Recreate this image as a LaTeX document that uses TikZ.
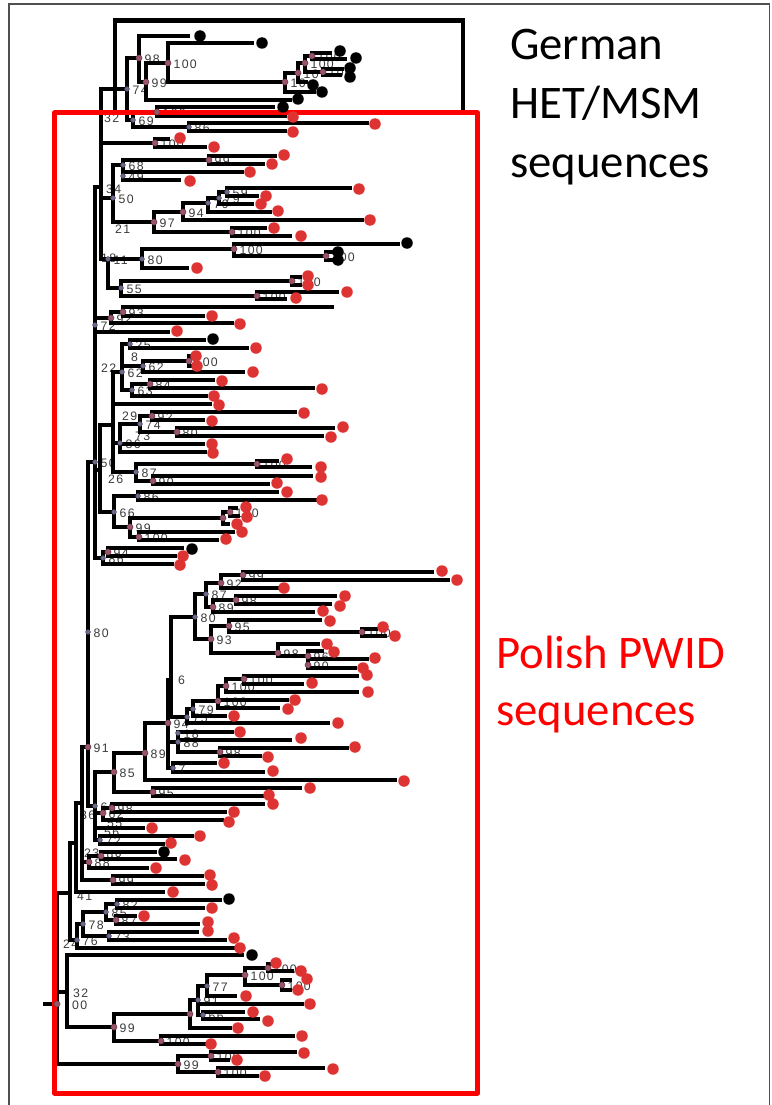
\documentclass[tikz,border=0pt]{standalone}
\usepackage{fontspec}
\setmainfont{Carlito}
\newfontfamily\labfont[LetterSpace=10]{Liberation Sans}
\pgfdeclarelayer{back}\pgfdeclarelayer{labs}\pgfdeclarelayer{fg}\pgfdeclarelayer{mks}
\pgfsetlayers{back,labs,main,fg,mks}
\definecolor{dotred}{HTML}{DD3333}
\definecolor{boxred}{HTML}{FF0000}
\definecolor{mkmauve}{HTML}{9A5468}
\definecolor{mkslate}{HTML}{6A6A8E}
\definecolor{labgray}{HTML}{3C3C3C}
\definecolor{framecol}{HTML}{505050}
\tikzset{
  br/.style={line width=3.1pt,line join=miter,line cap=rect},
  tipdot/.style={circle,inner sep=0pt,minimum size=11.5pt,draw=none},
  mkA/.style={circle,fill=mkmauve,draw=mkmauve!60!black,line width=0.4pt,inner sep=0pt,minimum size=6.2pt},
  mkB/.style={circle,fill=mkslate,draw=mkslate!60!black,line width=0.4pt,inner sep=0pt,minimum size=4.8pt},
  lab/.style={anchor=west,inner sep=0pt,text=labgray,font=\labfont\fontsize{12.3}{12.3}\selectfont},
  bigtxt/.style={anchor=base west,inner sep=0pt,font=\fontsize{46.7}{50}\selectfont}
}
\newcommand{\inn}[4]{\coordinate (#2) at (#3,#4); \draw[br] (#1) |- (#2);}
\newcommand{\tip}[7]{\coordinate (#2) at (#4,#3); \draw[br] (#1) |- (#2);
  \begin{pgfonlayer}{fg}\node[tipdot,fill=#7] (#2d) at (#5,#6) {};\end{pgfonlayer}}
\newcommand{\tipn}[4]{\coordinate (#2) at (#4,#3); \draw[br] (#1) |- (#2);}
\newcommand{\mk}[3]{\begin{pgfonlayer}{mks}\node[mk#3] (#1m) at (#1) {};\end{pgfonlayer}
  \begin{pgfonlayer}{labs}\node[lab] (#1l) at ([shift={(5.5,1.2)}]#1) {#2};\end{pgfonlayer}}
\newcommand{\flab}[4]{\begin{pgfonlayer}{labs}\node[lab] (#1) at (#2,#3) {#4};\end{pgfonlayer}}
\begin{document}
\begin{tikzpicture}[x=1pt,y=-1pt]
\useasboundingbox (0,0) rectangle (771,1105);
\begin{pgfonlayer}{back}\fill[white] (0,0) rectangle (771,1105);\end{pgfonlayer}
\draw[framecol,line width=1.5pt] (9,1110) -- (9,4) -- (769.5,4) -- (769.5,1110);
% boxes
\begin{pgfonlayer}{fg}
\draw[line width=4.8pt,line join=miter] (115,112) -- (115,20.5) -- (463,20.5) -- (463,112);
\draw[boxred,line width=5pt,line join=round] (54.5,113) rectangle (477.5,1093);
\end{pgfonlayer}
% texts
\node[bigtxt] (tG1) at (510,60) {German};
\node[bigtxt] (tG2) at (510,119) {HET/MSM};
\node[bigtxt] (tG3) at (510,177) {sequences};
\node[bigtxt,text=boxred] (tP1) at (496,668) {Polish PWID};
\node[bigtxt,text=boxred] (tP2) at (496,725) {sequences};
% ---------- tree ----------
\coordinate (root) at (57,1004);
\coordinate (rootstub) at (45,1004);
\draw[br] (rootstub) -- (root);
\inn{root}{N4}{70}{893}
\inn{N4}{N3}{76}{843}
\inn{N3}{N2}{82}{803}
\inn{N2}{N1}{88}{747}
\inn{N1}{nT}{95}{462}
\inn{nT}{nS0}{95}{325}
\inn{nS0}{S1}{101}{187}
% German clade
\inn{S1}{n74}{127}{89}
\inn{n74}{n98}{139}{58}
\tip{n98}{tg1}{36}{188}{200}{36}{black}
\inn{n98}{n99}{146}{82}
\inn{n99}{n100a}{168}{63}
\tip{n99}{tg2}{100}{290}{298}{99}{black}
\tip{n100a}{tg3}{43}{252}{262}{43}{black}
\inn{n100a}{c1}{285}{82}
\inn{c1}{c2}{298}{73}
\tip{c1}{tg4}{92}{314}{322}{92}{black}
\inn{c2}{c3}{305}{63}
\tip{c2}{tg5}{82}{306}{313}{85}{black}
\inn{c3}{c4}{312}{56}
\inn{c3}{c5}{323}{72}
\tip{c4}{tg6}{53}{330}{340}{51}{black}
\tip{c4}{tg7}{59}{345}{356}{58}{black}
\tip{c5}{tg8}{69}{342}{350}{68}{black}
\tip{c5}{tg9}{75}{340}{350}{77}{black}
\inn{n74}{n69}{133}{120}
\inn{n69}{n100b}{157}{112}
\tip{n100b}{tg10}{107}{273}{283}{107}{black}
\tip{n100b}{tr1}{116}{285}{293}{117}{dotred}
\inn{n69}{n86}{189}{127}
\tip{n86}{tr2}{123}{367}{375}{124}{dotred}
\tip{n86}{tr3}{131}{285}{293}{132}{dotred}
\inn{S1}{n100c}{155}{143}
\tip{n100c}{tr4}{139}{168}{180}{138}{dotred}
\tip{n100c}{tr5}{147}{205}{214}{147}{dotred}
\inn{S1}{n50}{113}{198}
\inn{n50}{n68}{123}{165}
\inn{n68}{n99b}{209}{160}
\tip{n99b}{tr6}{156}{275}{284}{155}{dotred}
\tip{n99b}{tr7}{164}{263}{272}{164}{dotred}
\tip{n68}{tr8}{172}{242}{250}{172}{dotred}
\tip{n68}{tr9}{180}{179}{190}{181}{dotred}
\coordinate (m49) at (123,176);
\inn{n50}{n97}{154}{222}
\inn{n97}{n94}{183}{212}
\inn{n94}{n79}{208}{203}
\inn{n79}{n79b}{219}{198}
\inn{n79b}{n59}{227}{192}
\tip{n59}{tr10}{188}{350}{359}{189}{dotred}
\tip{n59}{tr11}{196}{257}{266}{196}{dotred}
\tip{n79b}{tr12}{204}{252}{261}{204}{dotred}
\tip{n79}{tr13}{212}{270}{278}{211}{dotred}
\tip{n94}{tr14}{220}{362}{370}{220}{dotred}
\inn{n97}{n100d}{232}{232}
\tip{n100d}{tr15}{228}{265}{274}{228}{dotred}
\tip{n100d}{tr16}{236}{290}{301}{236}{dotred}
\inn{S1}{n18}{108}{259}
\inn{n18}{n80}{142}{259}
\inn{n80}{n100e}{234}{249}
\tip{n100e}{tg11}{244}{398}{407}{243}{black}
\inn{n100e}{n100f}{326}{256}
\tip{n100f}{tg12}{252}{332}{338}{252}{black}
\tip{n100f}{tg13}{260}{332}{338}{260}{black}
\tip{n80}{tr17}{268}{187}{197}{268}{dotred}
\inn{n18}{n55}{121}{288}
\inn{n55}{n100g}{292}{281}
\tip{n100g}{tr18}{277}{300}{308}{276}{dotred}
\tip{n100g}{tr19}{285}{300}{308}{285}{dotred}
\inn{n55}{n100h}{257}{296}
\tip{n100h}{tr20}{292}{337}{347}{292}{dotred}
\tip{n100h}{tr21}{299}{285}{296}{298}{dotred}
\inn{nS0}{n92}{111}{318}
\inn{n92}{n93}{123}{312}
\tipn{n93}{tq1}{307}{332}
\tip{n93}{tr22}{316}{203}{212}{316}{dotred}
\tip{n92}{tr23}{323}{232}{240}{324}{dotred}
\tip{nS0}{tr24}{332}{168}{177}{331}{dotred}
% middle
\inn{nT}{nU}{100}{470}
\inn{nU}{n22}{113}{425}
\inn{n22}{n62b}{122}{372}
\inn{n62b}{n25}{130}{344}
\tip{n25}{tg14}{340}{204}{213}{339}{black}
\tip{n25}{tr25}{348}{247}{256}{348}{dotred}
\inn{n62b}{n62a}{143}{366}
\inn{n62a}{n100i}{189}{361}
\tip{n100i}{tr26}{356}{191}{196}{356}{dotred}
\tip{n100i}{tr27}{366}{191}{197}{366}{dotred}
\tip{n62a}{tr28}{372}{243}{253}{372}{dotred}
\inn{n62b}{n63}{132}{390}
\inn{n63}{n84}{150}{384}
\tip{n84}{tr29}{380}{213}{222}{381}{dotred}
\tip{n84}{tr30}{388}{313}{322}{389}{dotred}
\tip{n63}{tr31}{396}{206}{214}{396}{dotred}
\tip{n22}{tr32}{404}{210}{219}{405}{dotred}
\inn{n22}{n29g}{120}{443}
\inn{n29g}{n74b}{140}{424}
\inn{n74b}{n92b}{152}{416}
\tip{n92b}{tr33}{412}{295}{304}{413}{dotred}
\tip{n92b}{tr34}{420}{203}{212}{421}{dotred}
\inn{n74b}{n80b}{177}{432}
\tip{n80b}{tr35}{428}{333}{343}{427}{dotred}
\tip{n80b}{tr36}{436}{322}{331}{437}{dotred}
\tip{n29g}{tr37}{444}{203}{212}{444}{dotred}
\tip{n29g}{tr38}{452}{205}{213}{453}{dotred}
\inn{n22}{n87}{136}{472}
\inn{n87}{n100j}{257}{464}
\tip{n100j}{tr39}{461}{277}{287}{459}{dotred}
\tip{n100j}{tr40}{467}{310}{321}{467}{dotred}
\inn{n87}{n90}{153}{481}
\tip{n90}{tr41}{476}{311}{321}{477}{dotred}
\tip{n90}{tr42}{484}{268}{277}{483}{dotred}
\inn{nU}{n66}{114}{512}
\inn{n66}{n86b}{138}{496}
\tip{n86b}{tr43}{492}{277}{287}{492}{dotred}
\tip{n86b}{tr44}{500}{315}{322}{500}{dotred}
\inn{n66}{n99d}{130}{527}
\inn{n99d}{nX}{223}{518}
\inn{nX}{nX2}{230}{512}
\tip{nX2}{tr45}{508}{236}{246}{507}{dotred}
\tip{nX2}{tr46}{516}{238}{247}{517}{dotred}
\tip{nX}{tr47}{524}{228}{237}{524}{dotred}
\inn{n99d}{n100k}{139}{537}
\tip{n100k}{tr48}{532}{233}{242}{532}{dotred}
\tip{n100k}{tr49}{540}{217}{226}{539}{dotred}
\inn{nT}{n86c}{103}{558}
\inn{n86c}{n94d}{108}{552}
\tip{n94d}{tg15}{548}{182}{192}{549}{black}
\tip{n94d}{tr50}{556}{175}{183}{556}{dotred}
\tip{n86c}{tr51}{564}{172}{180}{565}{dotred}
% lower big clade
\coordinate (m80L) at (88,632);
\inn{N1}{n60}{95}{806}
\inn{n60}{n85}{114}{772}
\inn{n85}{n89c}{145}{753}
\inn{n89c}{n94c}{168}{723}
\inn{n94c}{n6}{171}{680}
\inn{n6}{n80c}{195}{617}
\inn{n80c}{n87b}{206}{594}
\inn{n87b}{n92c}{221}{583}
\inn{n92c}{n99e}{243}{575}
\tip{n99e}{tr52}{572}{432}{442}{571}{dotred}
\tip{n99e}{tr53}{580}{448}{457}{580}{dotred}
\tip{n92c}{tr54}{588}{277}{284}{588}{dotred}
\inn{n87b}{n89}{213}{607}
\inn{n89}{n98b}{236}{600}
\tip{n98b}{tr55}{596}{335}{345}{596}{dotred}
\tip{n98b}{tr56}{604}{330}{340}{606}{dotred}
\tip{n89}{tr57}{612}{313}{323}{611}{dotred}
\inn{n80c}{n93c}{211}{639}
\inn{n93c}{n95}{229}{626}
\tip{n95}{tr58}{620}{320}{330}{621}{dotred}
\inn{n95}{n100l}{362}{632}
\tip{n100l}{tr59}{629}{376}{383}{627}{dotred}
\tip{n100l}{tr60}{636}{385}{395}{636}{dotred}
\inn{n93c}{n98c}{278}{653}
\tip{n98c}{tr61}{644}{318}{327}{644}{dotred}
\inn{n98c}{n96}{308}{656}
\tip{n96}{tr62}{651}{322}{334}{652}{dotred}
\tip{n96}{tr63}{659}{367}{375}{658}{dotred}
\tip{n96}{tr64}{668}{355}{363}{668}{dotred}
\coordinate (m90) at (308,665);
\inn{n6}{n75}{187}{717}
\inn{n75}{n79c}{193}{709}
\inn{n79c}{nA2}{218}{701}
\inn{nA2}{nA1}{226}{686}
\inn{nA1}{n100m}{244}{679}
\tip{n100m}{tr65}{676}{357}{367}{675}{dotred}
\tip{n100m}{tr66}{684}{302}{312}{683}{dotred}
\tip{nA1}{tr67}{692}{357}{368}{692}{dotred}
\tip{nA2}{tr69}{700}{287}{295}{700}{dotred}
\tip{nA2}{tr68}{708}{278}{288}{709}{dotred}
\tip{n79c}{tr70}{716}{225}{234}{716}{dotred}
\tip{n75}{tr71}{723}{328}{338}{723}{dotred}
\inn{n94c}{n88}{178}{742}
\coordinate (m18) at (178,733);
\tip{n88}{tr72}{732}{232}{240}{732}{dotred}
\tip{n88}{tr73}{740}{290}{301}{738}{dotred}
\inn{n88}{n98d}{220}{752}
\tip{n98d}{tr74}{748}{347}{355}{747}{dotred}
\tip{n98d}{tr75}{756}{260}{268}{757}{dotred}
\inn{n94c}{n7}{173}{768}
\tip{n7}{tr76}{763}{215}{224}{763}{dotred}
\tip{n7}{tr77}{772}{263}{273}{771}{dotred}
\tip{n89c}{tr78}{780}{395}{404}{781}{dotred}
\inn{n85}{n95b}{153}{792}
\tip{n95b}{tr79}{788}{300}{310}{788}{dotred}
\tip{n95b}{tr80}{796}{262}{269}{795}{dotred}
\inn{n60}{n62c}{103}{813}
\inn{n62c}{n98e}{112}{808}
\tip{n98e}{tr81}{804}{263}{273}{804}{dotred}
\tip{n98e}{tr82}{812}{225}{234}{812}{dotred}
\tip{n62c}{tr83}{820}{222}{229}{822}{dotred}
\tip{n60}{tr84}{828}{143}{152}{828}{dotred}
\inn{n60}{n72c}{100}{840}
\tip{n72c}{tr85}{836}{192}{200}{836}{dotred}
\tip{n72c}{tr86}{844}{163}{171}{843}{dotred}
\inn{N2}{n88b}{89}{862}
\inn{n88b}{n98f}{101}{856}
\tip{n98f}{tg16}{852}{155}{164}{852}{black}
\tip{n98f}{tr87}{859}{175}{185}{860}{dotred}
\tip{n88b}{tr88}{868}{147}{156}{868}{dotred}
\inn{N2}{n99f}{113}{880}
\tip{n99f}{tr89}{876}{202}{210}{875}{dotred}
\tip{n99f}{tr90}{884}{203}{212}{885}{dotred}
\tip{N3}{tr91}{892}{163}{173}{892}{dotred}
\inn{N4}{n76}{77}{940}
\inn{n76}{n78}{83}{924}
\inn{n78}{n85c}{106}{912}
\inn{n85c}{n82}{117}{904}
\tip{n82}{tg17}{900}{220}{229}{899}{black}
\tip{n82}{tr92}{908}{203}{212}{908}{dotred}
\inn{n85c}{n87c}{116}{920}
\tip{n87c}{tr93}{916}{135}{144}{916}{dotred}
\tip{n87c}{tr94}{924}{198}{208}{922}{dotred}
\inn{n78}{n73b}{109}{936}
\tip{n73b}{tr95}{932}{197}{208}{931}{dotred}
\tip{n73b}{tr96}{940}{225}{234}{938}{dotred}
\tip{n76}{tr97}{948}{233}{240}{948}{dotred}
\inn{root}{n32}{67}{992}
\tip{n32}{tg18}{955}{242}{252}{955}{black}
\inn{n32}{n99g}{114}{1027}
\inn{n99g}{n190}{190}{1014}
\inn{n190}{n91b}{198}{1000}
\inn{n91b}{n77}{207}{986}
\inn{n77}{n100q}{245}{975}
\inn{n100q}{n100r}{268}{968}
\tip{n100r}{tr98}{964}{270}{276}{963}{dotred}
\tip{n100r}{tr99}{971}{292}{301}{971}{dotred}
\inn{n100q}{n100s}{282}{985}
\tip{n100s}{tr100}{980}{290}{307}{979}{dotred}
\tip{n100s}{tr101}{990}{290}{298}{990}{dotred}
\tip{n77}{tr102}{996}{235}{246}{996}{dotred}
\tip{n91b}{tr103}{1004}{302}{310}{1004}{dotred}
\inn{n91b}{n66b}{203}{1015}
\tip{n66b}{tr104}{1012}{243}{253}{1012}{dotred}
\tip{n66b}{tr105}{1019}{258}{268}{1021}{dotred}
\tip{n190}{tr106}{1028}{230}{238}{1028}{dotred}
\inn{n99g}{n100p}{161}{1041}
\tip{n100p}{tr107}{1036}{293}{302}{1036}{dotred}
\tip{n100p}{tr108}{1044}{205}{211}{1044}{dotred}
\inn{root}{n99c}{178}{1064}
\inn{n99c}{n100t}{211}{1056}
\tip{n100t}{tr109}{1052}{295}{304}{1053}{dotred}
\tip{n100t}{tr110}{1060}{228}{237}{1060}{dotred}
\inn{n99c}{n100u}{218}{1072}
\tip{n100u}{tr111}{1068}{323}{333}{1069}{dotred}
\tip{n100u}{tr112}{1076}{257}{265}{1076}{dotred}
% ---------- markers and labels ----------
\mk{n74}{74}{B}\mk{n98}{98}{A}\mk{n99}{99}{A}\mk{n100a}{100}{A}
\mk{c1}{10}{A}\mk{c2}{10}{A}\mk{c3}{100}{A}\mk{c4}{100}{A}\mk{c5}{100}{A}
\mk{n69}{69}{B}\mk{n100b}{100}{A}\mk{n86}{86}{B}\mk{n100c}{100}{A}
\mk{n68}{68}{B}\mk{m49}{49}{B}\mk{n50}{50}{B}
\mk{n99b}{99}{A}\mk{n97}{97}{A}\mk{n94}{94}{A}\mk{n79}{79}{B}\mk{n79b}{79}{B}\mk{n59}{59}{B}\mk{n100d}{100}{A}
\mk{n18}{11}{B}\mk{n80}{80}{B}\mk{n100e}{100}{A}\mk{n100f}{100}{A}
\mk{n55}{55}{B}\mk{n100g}{100}{A}\mk{n100h}{100}{A}
\mk{n93}{93}{A}\mk{n92}{92}{A}\mk{nS0}{72}{B}
\mk{n62b}{62}{B}\mk{n25}{25}{B}\mk{n62a}{62}{B}\mk{n100i}{100}{A}\mk{n63}{63}{B}\mk{n84}{84}{A}
\mk{n74b}{74}{B}\mk{n92b}{92}{A}\mk{n80b}{80}{A}\mk{n29g}{86}{B}
\mk{n87}{87}{B}\mk{n100j}{100}{A}\mk{n90}{90}{A}
\mk{n66}{66}{B}\mk{n86b}{86}{B}\mk{n99d}{99}{A}\mk{nX}{}{A}\mk{nX2}{100}{A}\mk{n100k}{100}{A}
\mk{n94d}{94}{A}\mk{n86c}{86}{B}\mk{nT}{50}{B}
\mk{m80L}{80}{B}\mk{N1}{91}{A}
\mk{n80c}{80}{B}\mk{n87b}{87}{B}\mk{n92c}{92}{A}\mk{n99e}{99}{A}\mk{n89}{89}{A}\mk{n98b}{98}{A}
\mk{n93c}{93}{A}\mk{n95}{95}{A}\mk{n100l}{100}{A}\mk{n98c}{98}{A}\mk{n96}{96}{A}\mk{m90}{90}{A}
\mk{n94c}{94}{A}\mk{n75}{75}{B}\mk{n79c}{79}{B}\mk{nA2}{100}{A}\mk{nA1}{100}{A}\mk{n100m}{100}{A}
\mk{n88}{88}{B}\mk{m18}{18}{B}\mk{n98d}{98}{A}\mk{n7}{7}{B}
\mk{n89c}{89}{A}\mk{n85}{85}{A}\mk{n95b}{95}{A}\mk{n60}{60}{B}\mk{n62c}{62}{A}\mk{n98e}{98}{A}\mk{n72c}{72}{B}
\mk{n88b}{88}{A}\mk{n98f}{98}{A}\mk{n99f}{99}{A}
\mk{n76}{76}{B}\mk{n78}{78}{B}\mk{n85c}{85}{B}\mk{n82}{82}{B}\mk{n87c}{87}{A}\mk{n73b}{73}{B}
\mk{root}{}{A}
\mk{n99g}{99}{A}\mk{n190}{}{A}\mk{n91b}{91}{B}\mk{n77}{77}{B}\mk{n100q}{100}{A}\mk{n100r}{100}{A}\mk{n100s}{100}{A}
\mk{n66b}{66}{B}\mk{n100p}{100}{A}\mk{n99c}{99}{A}\mk{n100t}{100}{A}\mk{n100u}{100}{A}
\flab{l32a}{104}{118}{32}
\flab{l34}{106}{189}{34}
\flab{l21}{115}{229}{21}
\flab{l18}{101}{258}{18}
\flab{l8}{131}{357}{8}
\flab{l22}{101}{368}{22}
\flab{l29}{122}{416}{29}
\flab{l73}{135}{436}{73}
\flab{l26}{108}{479}{26}
\flab{l6}{178}{680}{6}
\flab{l36}{80}{815}{36}
\flab{l55}{107}{823}{55}
\flab{l56}{104}{832}{56}
\flab{l23}{84}{853}{23}
\flab{l41}{77}{896}{41}
\flab{l24}{63}{944}{24}
\flab{l32b}{73}{993}{32}
\flab{l00}{72}{1005}{00}
\end{tikzpicture}
\end{document}
